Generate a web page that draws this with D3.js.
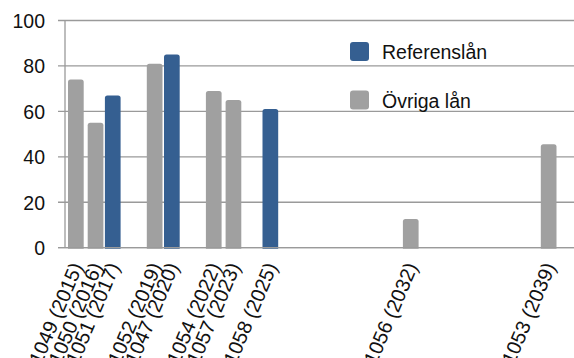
<!DOCTYPE html>
<html>
<head>
<meta charset="utf-8">
<script src="https://cdn.jsdelivr.net/npm/d3@7"></script>
<style>
  html, body { margin: 0; padding: 0; background: #fff; }
  svg { display: block; }
  text { font-family: "Liberation Sans", Arial, Helvetica, sans-serif; fill: #111; }
</style>
</head>
<body>
<svg id="chart" width="574" height="358"></svg>
<script>
// ---- Data ----
const bondLabels = ["1049 (2015)", "1050 (2016)", "1051 (2017)", "1052 (2019)", "1047 (2020)",
                    "1054 (2022)", "1057 (2023)", "1058 (2025)", "1056 (2032)", "1053 (2039)"];
const maturityYears = [2015, 2016, 2017, 2019, 2020, 2022, 2023, 2025, 2032, 2039];
const bondSeries = ["Övriga lån", "Övriga lån", "Referenslån", "Övriga lån", "Referenslån",
                    "Övriga lån", "Övriga lån", "Referenslån", "Övriga lån", "Övriga lån"];
const bondValues = [74, 55, 67, 81, 85, 69, 65, 61, 12.6, 45.5];
const legendNames = ["Referenslån", "Övriga lån"];
const yTicks = [0, 20, 40, 60, 80, 100];

// ---- Layout / style ----
const W = 574, H = 358;
const plot = { left: 65, top: 20.5, bottom: 247.7 };
const colors = { "Referenslån": "#355F91", "Övriga lån": "#A0A0A0" };
const seriesOffset = { "Referenslån": -2.5, "Övriga lån": 0 };
const barW = 15.7;

const svg = d3.select("#chart");

const y = d3.scaleLinear().domain([0, 100]).range([plot.bottom, plot.top]);
const x = d3.scaleLinear().domain([2014.5, 2040.5]).range([66, 66 + 26 * 19.7]);

// gridlines + ticks
const grid = svg.append("g");
grid.selectAll("line")
  .data(yTicks)
  .join("line")
  .attr("x1", plot.left - 7)
  .attr("x2", W)
  .attr("y1", d => y(d))
  .attr("y2", d => y(d))
  .attr("stroke", "#9a9a9a")
  .attr("stroke-width", 1.3);

// y-axis via d3 axis for labels
const yAxis = svg.append("g")
  .attr("transform", `translate(${plot.left - 7},0)`)
  .call(d3.axisLeft(y).tickValues(yTicks).tickSize(0).tickPadding(13));
yAxis.select(".domain").remove();
yAxis.selectAll("text")
  .style("font-size", "19.5px")
  .attr("fill", "#111")
  .attr("dy", "0.35em");

// y axis line
svg.append("line")
  .attr("x1", plot.left).attr("x2", plot.left)
  .attr("y1", y(100)).attr("y2", y(0))
  .attr("stroke", "#9a9a9a")
  .attr("stroke-width", 1.3);

// bars
const data = bondLabels.map((label, i) => ({
  label, year: maturityYears[i], series: bondSeries[i], value: bondValues[i]
}));

svg.append("g").selectAll("path")
  .data(data)
  .join("path")
  .attr("fill", d => colors[d.series])
  .attr("d", d => {
    const cx = x(d.year) + seriesOffset[d.series];
    const x0 = cx - barW / 2, x1 = cx + barW / 2;
    const yt = y(d.value), yb = y(0) + 1;
    const r = 2.5;
    return `M${x0},${yb} L${x0},${yt + r} Q${x0},${yt} ${x0 + r},${yt} L${x1 - r},${yt} Q${x1},${yt} ${x1},${yt + r} L${x1},${yb} Z`;
  });

// baseline redraw on top
svg.append("line")
  .attr("x1", plot.left - 7).attr("x2", W)
  .attr("y1", y(0)).attr("y2", y(0))
  .attr("stroke", "#9a9a9a")
  .attr("stroke-width", 1.3);

// x labels rotated
svg.append("g").selectAll("text")
  .data(data)
  .join("text")
  .attr("transform", d => `translate(${x(d.year) + seriesOffset[d.series] + 1},${plot.bottom + 16}) rotate(-67)`)
  .attr("text-anchor", "end")
  .attr("dy", "0.35em")
  .style("font-size", "20px")
  .text(d => d.label);

// legend
const legend = svg.append("g");
legendNames.forEach((name, i) => {
  const ly = 42 + i * 48.5;
  legend.append("rect")
    .attr("x", 350).attr("y", ly)
    .attr("width", 19).attr("height", 19)
    .attr("rx", 3)
    .attr("fill", colors[name]);
  legend.append("text")
    .attr("x", 382).attr("y", ly + 17)
    .style("font-size", "19.5px")
    .text(name);
});
</script>
</body>
</html>
